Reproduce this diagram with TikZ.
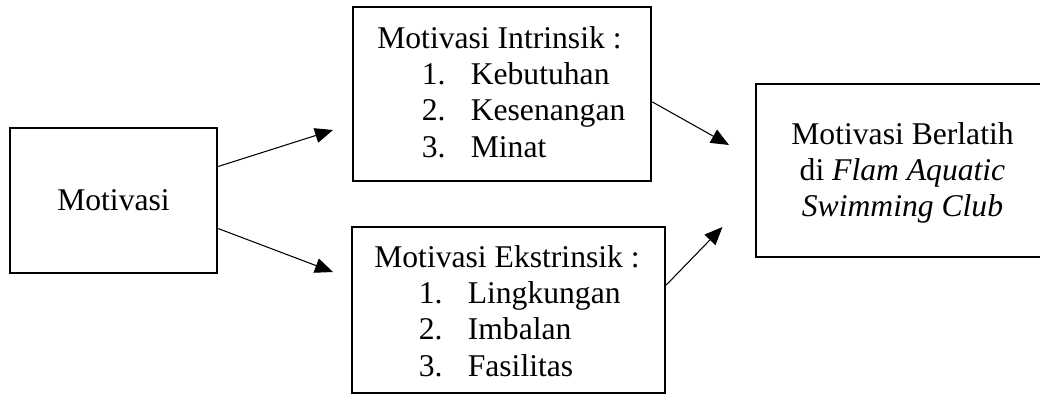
\documentclass[tikz,border=0pt]{standalone}
\usepackage{fontspec}
\setmainfont{Liberation Serif}
\usetikzlibrary{arrows.meta,positioning}

\newcommand{\butir}[2]{\hspace*{0.89cm}\makebox[0.98cm][l]{#1}#2}

\begin{document}
\begin{tikzpicture}[line width=0.6pt, font=\fontsize{18}{20.7}\selectfont,
    kotak/.style={draw, line width=1.4pt, inner sep=0pt},
    isi/.style={align=left, inner sep=0pt},
    panah/.style={-{Triangle[length=0.36cm,width=0.3cm]}}]
    \path[use as bounding box, clip] (0,0) rectangle (20.8,7.9);

    \node[kotak, minimum width=4.14cm, minimum height=2.9cm] (motivasi) at (2.27,3.89) {Motivasi};
    \node[kotak, minimum width=5.96cm, minimum height=3.48cm] (intrinsik) at (10.04,6.02) {};
    \node[kotak, minimum width=6.26cm, minimum height=3.32cm] (ekstrinsik) at (10.17,1.70) {};
    \node[kotak, minimum width=5.86cm, minimum height=3.46cm] (berlatih) at (18.05,4.49) {};

    \node[isi, below right=0.40cm and 0.5cm of intrinsik.north west] (intrinsik-isi)
        {Motivasi Intrinsik :\\ \butir{1.}{Kebutuhan}\\ \butir{2.}{Kesenangan}\\ \butir{3.}{Minat}};
    \node[isi, below right=0.38cm and 0.46cm of ekstrinsik.north west] (ekstrinsik-isi)
        {Motivasi Ekstrinsik :\\ \butir{1.}{Lingkungan}\\ \butir{2.}{Imbalan}\\ \butir{3.}{Fasilitas}};
    \node[isi, align=center, below=0.78cm of berlatih.north] (berlatih-isi)
        {Motivasi Berlatih\\ di \textit{Flam Aquatic}\\ \textit{Swimming Club}};

    \coordinate (ujung1) at (6.66,5.30);
    \coordinate (ujung2) at (6.66,2.46);
    \coordinate (ujung3) at (14.58,5.0);
    \coordinate (ujung4) at (14.45,3.36);

    \path[panah] (motivasi.18) edge (ujung1)
                 (motivasi.345) edge (ujung2)
                 (intrinsik.357) edge (ujung3)
                 (ekstrinsik.9) edge (ujung4);
\end{tikzpicture}
\end{document}
